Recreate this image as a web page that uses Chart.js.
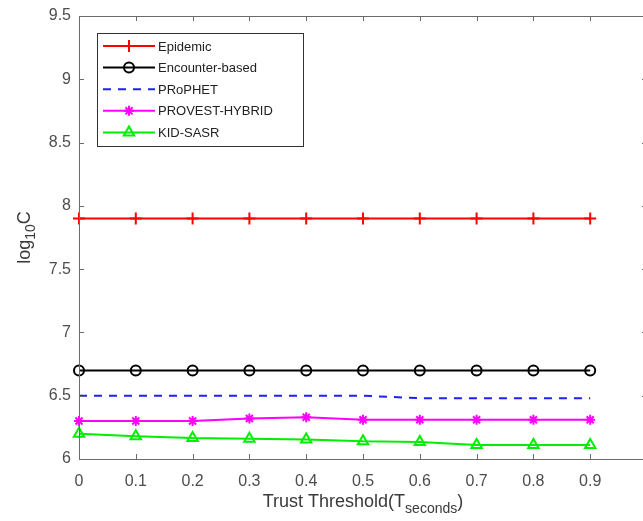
<!DOCTYPE html>
<html>
<head>
<meta charset="utf-8">
<script src="https://cdn.jsdelivr.net/npm/chart.js@4"></script>
<style>
  html, body { margin: 0; padding: 0; background: #fff; overflow: hidden; }
  #wrap { width: 660px; height: 521px; }
</style>
</head>
<body>
<div id="wrap"><canvas id="chart"></canvas></div>
<script>
// data
const thresholds = [0, 0.1, 0.2, 0.3, 0.4, 0.5, 0.6, 0.7, 0.8, 0.9];
const epidemic = [7.9, 7.9, 7.9, 7.9, 7.9, 7.9, 7.9, 7.9, 7.9, 7.9];
const encounter = [6.7, 6.7, 6.7, 6.7, 6.7, 6.7, 6.7, 6.7, 6.7, 6.7];
const prophet = [6.5, 6.5, 6.5, 6.5, 6.5, 6.5, 6.48, 6.48, 6.48, 6.48];
const provest = [6.3, 6.3, 6.3, 6.32, 6.33, 6.31, 6.31, 6.31, 6.31, 6.31];
const kidSasr = [6.2, 6.18, 6.165, 6.16, 6.155, 6.14, 6.135, 6.11, 6.11, 6.11];
const xTickLabels = ['0', '0.1', '0.2', '0.3', '0.4', '0.5', '0.6', '0.7', '0.8', '0.9', ''];
const yTickLabels = ['6', '6.5', '7', '7.5', '8', '8.5', '9', '9.5'];

function pts(arr) {
  return arr.map((v, i) => ({ x: thresholds[i], y: v }));
}

const axisColor = '#6b6b6b';
const font = 'Liberation Sans, Arial, sans-serif';

// MATLAB-style box with inward ticks
const boxPlugin = {
  id: 'box',
  afterDraw(chart) {
    const ctx = chart.ctx, a = chart.chartArea;
    const xs = chart.scales.x, ys = chart.scales.y;
    ctx.save();
    ctx.strokeStyle = axisColor;
    ctx.lineWidth = 1;
    ctx.strokeRect(a.left + 0.5, a.top + 0.5, a.right - a.left, a.bottom - a.top);
    ctx.beginPath();
    xs.ticks.forEach(t => {
      const px = Math.round(xs.getPixelForValue(t.value)) + 0.5;
      ctx.moveTo(px, a.bottom); ctx.lineTo(px, a.bottom - 5);
      ctx.moveTo(px, a.top); ctx.lineTo(px, a.top + 5);
    });
    ys.ticks.forEach(t => {
      const py = Math.round(ys.getPixelForValue(t.value)) + 0.5;
      ctx.moveTo(a.left, py); ctx.lineTo(a.left + 5, py);
      ctx.moveTo(a.right, py); ctx.lineTo(a.right - 5, py);
    });
    ctx.stroke();

    // axis titles with subscripts
    ctx.fillStyle = '#3a3a3a';
    ctx.textBaseline = 'alphabetic';
    const big = '18px ' + font, small = '14px ' + font;
    ctx.font = big;
    const p1 = 'Trust Threshold(T', p3 = ')';
    const w1 = ctx.measureText(p1).width, w3 = ctx.measureText(p3).width;
    ctx.font = small;
    const w2 = ctx.measureText('seconds').width;
    let x0 = (a.left + a.right) / 2 - (w1 + w2 + w3) / 2;
    const yb = 507;
    ctx.font = big; ctx.textAlign = 'left';
    ctx.fillText(p1, x0, yb);
    ctx.font = small; ctx.fillText('seconds', x0 + w1, yb + 6);
    ctx.font = big; ctx.fillText(p3, x0 + w1 + w2, yb);

    // y title
    ctx.translate(30, (a.top + a.bottom) / 2);
    ctx.rotate(-Math.PI / 2);
    ctx.font = big;
    const q1 = ctx.measureText('log').width, q3 = ctx.measureText('C').width;
    ctx.font = small;
    const q2 = ctx.measureText('10').width;
    let s = -(q1 + q2 + q3) / 2;
    ctx.font = big; ctx.fillText('log', s, 0);
    ctx.font = small; ctx.fillText('10', s + q1, 5);
    ctx.font = big; ctx.fillText('C', s + q1 + q2, 0);
    ctx.restore();
  }
};

// legend box with line + marker samples
const legendPlugin = {
  id: 'boxLegend',
  afterDatasetsDraw(chart) {
    const ctx = chart.ctx;
    const bx = 97, by = 33, bw = 206, bh = 113;
    ctx.save();
    ctx.fillStyle = '#fff';
    ctx.fillRect(bx, by, bw, bh);
    ctx.strokeStyle = '#333';
    ctx.lineWidth = 1;
    ctx.strokeRect(bx + 0.5, by + 0.5, bw, bh);
    chart.data.datasets.forEach((ds, i) => {
      const y = 46 + i * 21.6;
      ctx.strokeStyle = ds.borderColor;
      ctx.lineWidth = 2;
      ctx.setLineDash(ds.borderDash || []);
      ctx.beginPath();
      ctx.moveTo(103, y); ctx.lineTo(155, y);
      ctx.stroke();
      ctx.setLineDash([]);
      if (ds.pointStyle && ds.pointRadius > 0) {
        ctx.fillStyle = 'rgba(0,0,0,0)';
        Chart.helpers.drawPoint(ctx, {
          pointStyle: ds.pointStyle, radius: ds.pointRadius, rotation: 0,
          borderWidth: ds.pointBorderWidth
        }, 129, y);
      }
      ctx.fillStyle = '#222';
      ctx.font = '13px ' + font;
      ctx.textAlign = 'left';
      ctx.textBaseline = 'middle';
      ctx.fillText(ds.label, 158, y + 1);
    });
    ctx.restore();
  }
};

function series(label, data, color, style, radius, extra) {
  return Object.assign({
    label: label,
    data: pts(data),
    borderColor: color,
    backgroundColor: 'rgba(0,0,0,0)',
    pointBorderColor: color,
    pointBackgroundColor: 'rgba(0,0,0,0)',
    borderWidth: 2,
    pointStyle: style,
    pointRadius: radius,
    pointBorderWidth: 2,
    tension: 0,
    clip: false
  }, extra || {});
}

new Chart(document.getElementById('chart'), {
  type: 'line',
  data: {
    datasets: [
      series('Epidemic', epidemic, '#ff0000', 'cross', 6),
      series('Encounter-based', encounter, '#000000', 'circle', 5),
      series('PRoPHET', prophet, '#1f1fff', false, 0, { borderDash: [8, 7] }),
      series('PROVEST-HYBRID', provest, '#ff00ff', 'star', 5),
      series('KID-SASR', kidSasr, '#00ee00', 'triangle', 6)
    ]
  },
  options: {
    responsive: true,
    maintainAspectRatio: false,
    animation: false,
    layout: { padding: { top: 16, right: 13, left: 0, bottom: 0 } },
    plugins: { legend: { display: false }, tooltip: { enabled: false } },
    scales: {
      x: {
        type: 'linear', min: 0, max: 1,
        grid: { display: false }, border: { display: false },
        ticks: {
          stepSize: 0.1, maxRotation: 0, autoSkip: false, padding: 5,
          color: '#4d4d4d', font: { family: font, size: 16 },
          callback: (v, i) => xTickLabels[i]
        },
        afterFit: s => { s.height = 62; }
      },
      y: {
        min: 6, max: 9.5,
        grid: { display: false }, border: { display: false },
        ticks: {
          stepSize: 0.5, padding: 0,
          color: '#4d4d4d', font: { family: font, size: 16 },
          callback: (v, i) => yTickLabels[i]
        },
        afterFit: s => { s.width = 79; }
      }
    }
  },
  plugins: [boxPlugin, legendPlugin]
});
</script>
</body>
</html>
